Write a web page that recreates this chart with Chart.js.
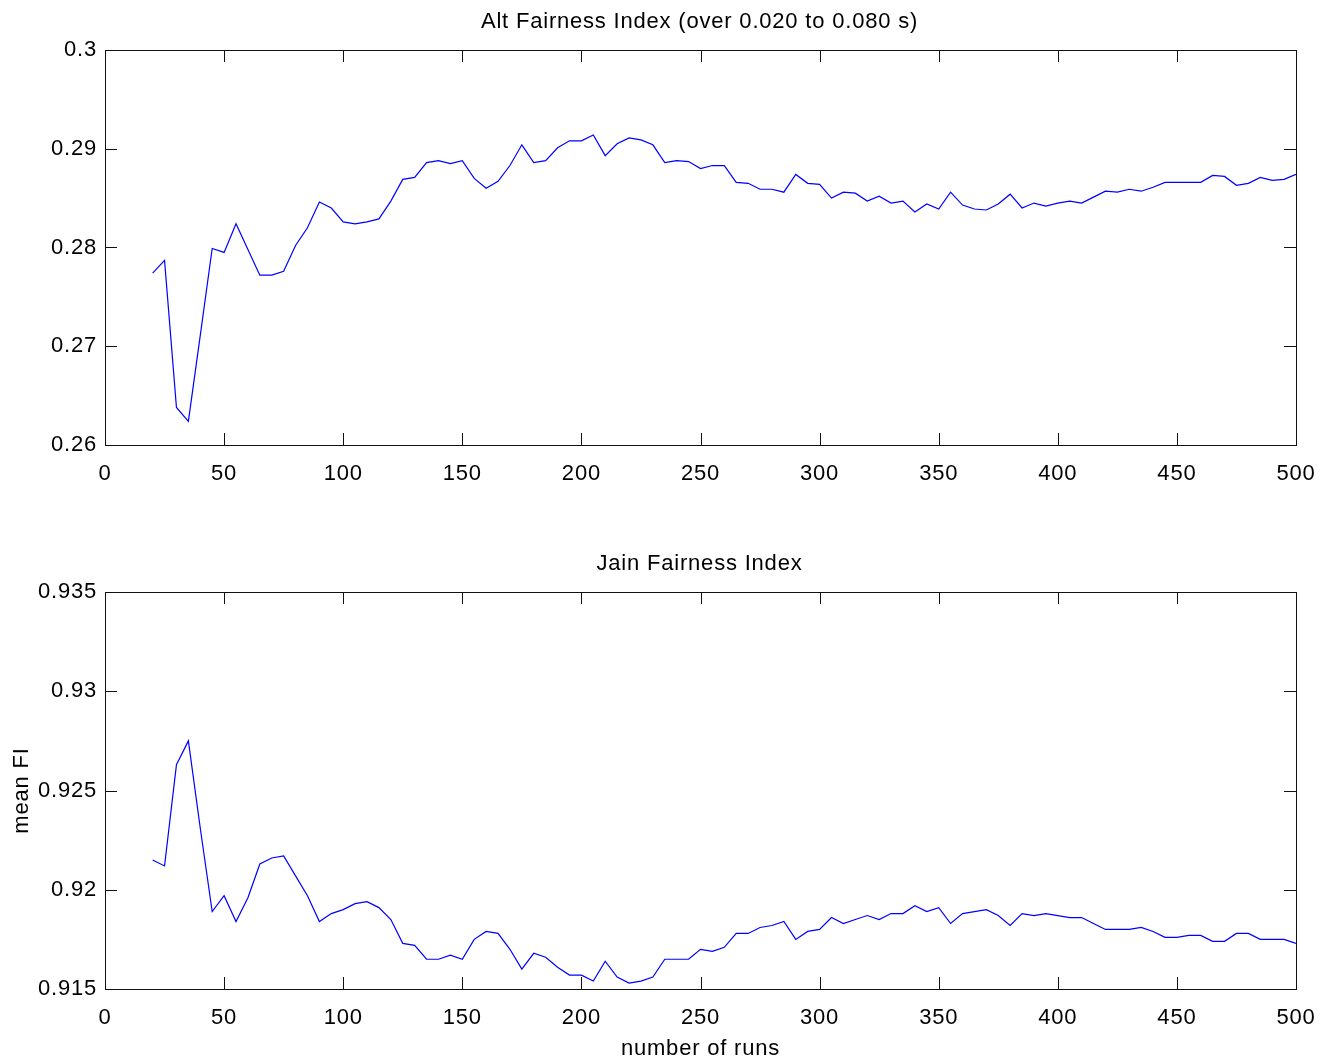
<!DOCTYPE html>
<html>
<head>
<meta charset="utf-8">
<script src="https://cdn.jsdelivr.net/npm/chart.js@4.4.1/dist/chart.umd.min.js"></script>
<style>
    body { margin: 0; background: #fff; }
    canvas { position: absolute; left: 0; }
    #alt-chart { top: 0; }
    #jain-chart { top: 520px; }
</style>
</head>
<body>
<canvas id="alt-chart" width="1320" height="520"></canvas>
<canvas id="jain-chart" width="1320" height="543"></canvas>
<script>
// number of runs the means were taken over
const runs = [
    20, 25, 30, 35, 40, 45, 50, 55, 60, 65,
    70, 75, 80, 85, 90, 95, 100, 105, 110, 115,
    120, 125, 130, 135, 140, 145, 150, 155, 160, 165,
    170, 175, 180, 185, 190, 195, 200, 205, 210, 215,
    220, 225, 230, 235, 240, 245, 250, 255, 260, 265,
    270, 275, 280, 285, 290, 295, 300, 305, 310, 315,
    320, 325, 330, 335, 340, 345, 350, 355, 360, 365,
    370, 375, 380, 385, 390, 395, 400, 405, 410, 415,
    420, 425, 430, 435, 440, 445, 450, 455, 460, 465,
    470, 475, 480, 485, 490, 495, 500,
]

const altFairness = [
    0.2774, 0.2787, 0.2638, 0.2624, 0.2711, 0.2799, 0.2795, 0.2824, 0.2798, 0.2772,
    0.2772, 0.2776, 0.2802, 0.2820, 0.2846, 0.2840, 0.2826, 0.2824, 0.2826, 0.2829,
    0.2847, 0.2869, 0.2871, 0.2886, 0.2888, 0.2885, 0.2888, 0.2870, 0.2860, 0.2867,
    0.2883, 0.2904, 0.2886, 0.2888, 0.2901, 0.2908, 0.2908, 0.2914, 0.2893, 0.2905,
    0.2911, 0.2909, 0.2904, 0.2886, 0.2888, 0.2887, 0.2880, 0.2883, 0.2883, 0.2866,
    0.2865, 0.2859, 0.2859, 0.2856, 0.2874, 0.2865, 0.2864, 0.2850, 0.2856, 0.2855,
    0.2847, 0.2852, 0.2845, 0.2847, 0.2836, 0.2844, 0.2839, 0.2856, 0.2843, 0.2839,
    0.2838, 0.2844, 0.2854, 0.2840, 0.2845, 0.2842, 0.2845, 0.2847, 0.2845, 0.2851,
    0.2857, 0.2856, 0.2859, 0.2857, 0.2861, 0.2866, 0.2866, 0.2866, 0.2866, 0.2873,
    0.2872, 0.2863, 0.2865, 0.2871, 0.2868, 0.2869, 0.2874,
]

const jainFairness = [
    0.9215, 0.9212, 0.9263, 0.9275, 0.9231, 0.9189, 0.9197, 0.9184, 0.9196, 0.9213,
    0.9216, 0.9217, 0.9207, 0.9197, 0.9184, 0.9188, 0.9190, 0.9193, 0.9194, 0.9191,
    0.9185, 0.9173, 0.9172, 0.9165, 0.9165, 0.9167, 0.9165, 0.9175, 0.9179, 0.9178,
    0.9170, 0.9160, 0.9168, 0.9166, 0.9161, 0.9157, 0.9157, 0.9154, 0.9164, 0.9156,
    0.9153, 0.9154, 0.9156, 0.9165, 0.9165, 0.9165, 0.9170, 0.9169, 0.9171, 0.9178,
    0.9178, 0.9181, 0.9182, 0.9184, 0.9175, 0.9179, 0.9180, 0.9186, 0.9183, 0.9185,
    0.9187, 0.9185, 0.9188, 0.9188, 0.9192, 0.9189, 0.9191, 0.9183, 0.9188, 0.9189,
    0.9190, 0.9187, 0.9182, 0.9188, 0.9187, 0.9188, 0.9187, 0.9186, 0.9186, 0.9183,
    0.9180, 0.9180, 0.9180, 0.9181, 0.9179, 0.9176, 0.9176, 0.9177, 0.9177, 0.9174,
    0.9174, 0.9178, 0.9178, 0.9175, 0.9175, 0.9175, 0.9173,
]

const xTickValues = [0, 50, 100, 150, 200, 250, 300, 350, 400, 450, 500]
const xTickLabels = ["0", "50", "100", "150", "200", "250", "300", "350", "400", "450", "500"]

const altTickValues = [0.26, 0.27, 0.28, 0.29, 0.3]
const altTickLabels = ["0.26", "0.27", "0.28", "0.29", "0.3"]

const jainTickValues = [0.915, 0.92, 0.925, 0.93, 0.935]
const jainTickLabels = ["0.915", "0.92", "0.925", "0.93", "0.935"]

const FONT = '"Liberation Sans", Arial, Helvetica, sans-serif'
const SPACING = "0.8px"

Chart.defaults.font.family = FONT
Chart.defaults.font.size = 22
Chart.defaults.color = "#000"

// matlab-ish box: full frame, inward ticks on all four sides, title above
const boxPlugin = {
    id: "box",
    beforeDraw(chart) {
        chart.ctx.letterSpacing = SPACING
    },
    afterDatasetsDraw(chart, args, opts) {
        const { ctx, chartArea: a, scales } = chart
        const len = 12
        ctx.save()
        ctx.strokeStyle = "#111"
        ctx.lineWidth = 1
        ctx.beginPath()
        scales.x.ticks.forEach((t) => {
            const px = Math.round(scales.x.getPixelForValue(t.value)) + 0.5
            ctx.moveTo(px, a.bottom)
            ctx.lineTo(px, a.bottom - len)
            ctx.moveTo(px, a.top)
            ctx.lineTo(px, a.top + len)
        })
        scales.y.ticks.forEach((t) => {
            const py = Math.round(scales.y.getPixelForValue(t.value)) + 0.5
            ctx.moveTo(a.left, py)
            ctx.lineTo(a.left + len, py)
            ctx.moveTo(a.right, py)
            ctx.lineTo(a.right - len, py)
        })
        ctx.stroke()
        ctx.strokeRect(Math.round(a.left) + 0.5, Math.round(a.top) + 0.5,
            Math.round(a.width), Math.round(a.height))

        ctx.fillStyle = "#000"
        ctx.font = "22px " + FONT
        ctx.letterSpacing = SPACING
        ctx.textAlign = "center"
        ctx.textBaseline = "middle"
        ctx.fillText(opts.text, (a.left + a.right) / 2 - 1, a.top - 28)
        ctx.restore()
    },
}

function drawFairnessChart(canvasId, titleText, values, yTicks, yLabels, sizes, yTitle, xTitle) {
    const points = runs.map((r, i) => ({ x: r, y: values[i] }))

    return new Chart(document.getElementById(canvasId), {
        type: "line",
        data: {
            datasets: [
                {
                    data: points,
                    borderColor: "#0000ff",
                    borderWidth: 1.2,
                    pointRadius: 0,
                    tension: 0,
                    fill: false,
                },
            ],
        },
        options: {
            responsive: false,
            animation: false,
            devicePixelRatio: 1,
            layout: {
                padding: { left: 0, right: 24, top: sizes.top, bottom: 0 },
            },
            plugins: {
                legend: { display: false },
                tooltip: { enabled: false },
                box: { text: titleText },
            },
            scales: {
                x: {
                    type: "linear",
                    min: 0,
                    max: 500,
                    grid: { display: false, drawTicks: false },
                    border: { display: false },
                    afterBuildTicks: (scale) => {
                        scale.ticks = xTickValues.map((v) => ({ value: v }))
                    },
                    afterFit: (scale) => {
                        scale.height = sizes.xHeight
                        // the end labels may hang past the frame
                        scale.paddingLeft = 0
                        scale.paddingRight = 0
                    },
                    ticks: {
                        autoSkip: false,
                        maxRotation: 0,
                        padding: 16,
                        callback: (v, i) => xTickLabels[i],
                    },
                    title: {
                        display: !!xTitle,
                        text: xTitle,
                        padding: { top: 1, bottom: 1 },
                    },
                },
                y: {
                    min: yTicks[0],
                    max: yTicks[yTicks.length - 1],
                    grid: { display: false, drawTicks: false },
                    border: { display: false },
                    afterBuildTicks: (scale) => {
                        scale.ticks = yTicks.map((v) => ({ value: v }))
                    },
                    afterFit: (scale) => {
                        scale.width = 105
                        scale.paddingTop = 0
                        scale.paddingBottom = 0
                    },
                    ticks: {
                        autoSkip: false,
                        padding: 8,
                        callback: (v, i) => yLabels[i],
                    },
                    title: {
                        display: !!yTitle,
                        text: yTitle,
                        padding: { top: 9, bottom: 9 },
                    },
                },
            },
        },
        plugins: [boxPlugin],
    })
}

drawFairnessChart("alt-chart", "Alt Fairness Index (over 0.020 to 0.080 s)", altFairness,
    altTickValues, altTickLabels, { top: 50, xHeight: 75 }, "", "")

drawFairnessChart("jain-chart", "Jain Fairness Index", jainFairness,
    jainTickValues, jainTickLabels, { top: 72, xHeight: 74 }, "mean FI", "number of runs")
</script>
</body>
</html>
